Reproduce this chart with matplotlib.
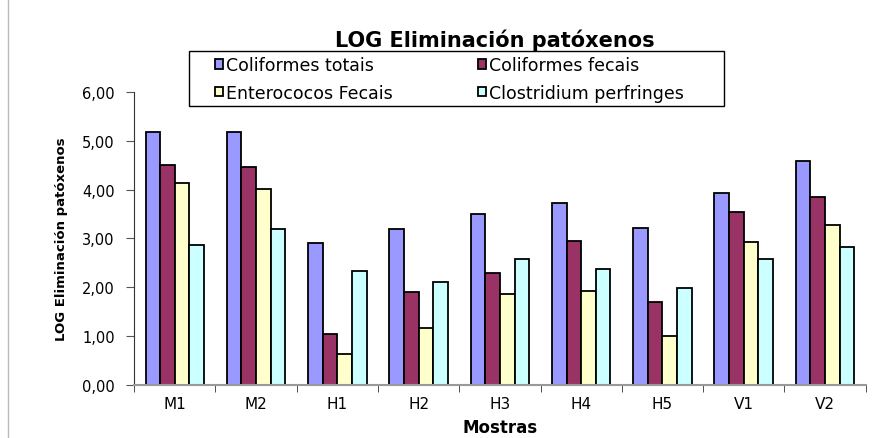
import matplotlib.pyplot as plt
import numpy as np
from matplotlib.lines import Line2D
from matplotlib.patches import Rectangle

plt.rcParams['font.family'] = ['DejaVu Sans']

samples = ['M1', 'M2', 'H1', 'H2', 'H3', 'H4', 'H5', 'V1', 'V2']
coli_totais = [5.18, 5.19, 2.90, 3.19, 3.50, 3.73, 3.22, 3.93, 4.58]
coli_fecais = [4.51, 4.47, 1.04, 1.91, 2.30, 2.94, 1.69, 3.55, 3.84]
entero_fecais = [4.13, 4.01, 0.64, 1.16, 1.86, 1.93, 1.00, 2.92, 3.28]
clostridium = [2.87, 3.19, 2.34, 2.10, 2.58, 2.37, 1.99, 2.57, 2.82]

series = [
    ('Coliformes totais', coli_totais, '#9999FF'),
    ('Coliformes fecais', coli_fecais, '#993366'),
    ('Enterococos Fecais', entero_fecais, '#FFFFCC'),
    ('Clostridium perfringes', clostridium, '#CCFFFF'),
]

fig = plt.figure(figsize=(8.77, 4.39), dpi=100)
ax = fig.add_axes([0.153, 0.121, 0.834, 0.667])

x = np.arange(len(samples))
w = 0.18
bars = []
for i, (name, vals, col) in enumerate(series):
    b = ax.bar(x + (i - 1.5) * w, vals, w, color=col, edgecolor='black',
               linewidth=1.3, label=name)
    bars.append(b)

ax.set_xlim(-0.5, len(samples) - 0.5)
ax.set_ylim(0, 6)
ax.set_yticks(np.arange(0, 7, 1))
ax.set_yticklabels([f'{v:.2f}'.replace('.', ',') for v in np.arange(0, 7, 1)])
ax.set_xticks(x)
ax.set_xticklabels(samples)
ax.set_xticks(np.arange(-0.5, len(samples), 1), minor=True)
ax.tick_params(axis='x', which='major', length=0, pad=8, labelsize=11)
ax.tick_params(axis='x', which='minor', length=5, direction='out', color='#333333')
ax.tick_params(axis='y', length=6, direction='out', labelsize=10.5, pad=8,
               color='#555555')

for s in ['top', 'right']:
    ax.spines[s].set_visible(False)
ax.spines['bottom'].set_color('#999999')
ax.spines['bottom'].set_linewidth(1.5)
ax.spines['left'].set_color('#333333')

ax.set_xlabel('Mostras', fontsize=12, fontweight='bold', labelpad=5)
ax.set_ylabel('LOG Eliminación patóxenos', fontsize=9.5, fontweight='bold', labelpad=10)

fig.text(0.564, 0.909, 'LOG Eliminación patóxenos', ha='center', va='center',
         fontsize=15, fontweight='bold')

# legend box (drawn separately so it can be wider than the entries)
fig.add_artist(Rectangle((0.2155, 0.7563), 0.610, 0.1253, transform=fig.transFigure,
                         facecolor='none', edgecolor='black', linewidth=1.0))

handles = [bars[0], bars[2], bars[1], bars[3]]
labels = [series[0][0], series[2][0], series[1][0], series[3][0]]
leg = fig.legend(handles, labels, ncol=2, loc='center left',
                 bbox_to_anchor=(0.245, 0.818), fontsize=12.5,
                 frameon=False, handlelength=0.45, handleheight=0.45,
                 handletextpad=0.2, columnspacing=4.9, borderpad=0,
                 labelspacing=0.55, borderaxespad=0)

fig.add_artist(Line2D([0.009, 0.009], [0.0, 1.0], color='#bbbbbb', linewidth=1))

fig.savefig('out.png', dpi=100)
